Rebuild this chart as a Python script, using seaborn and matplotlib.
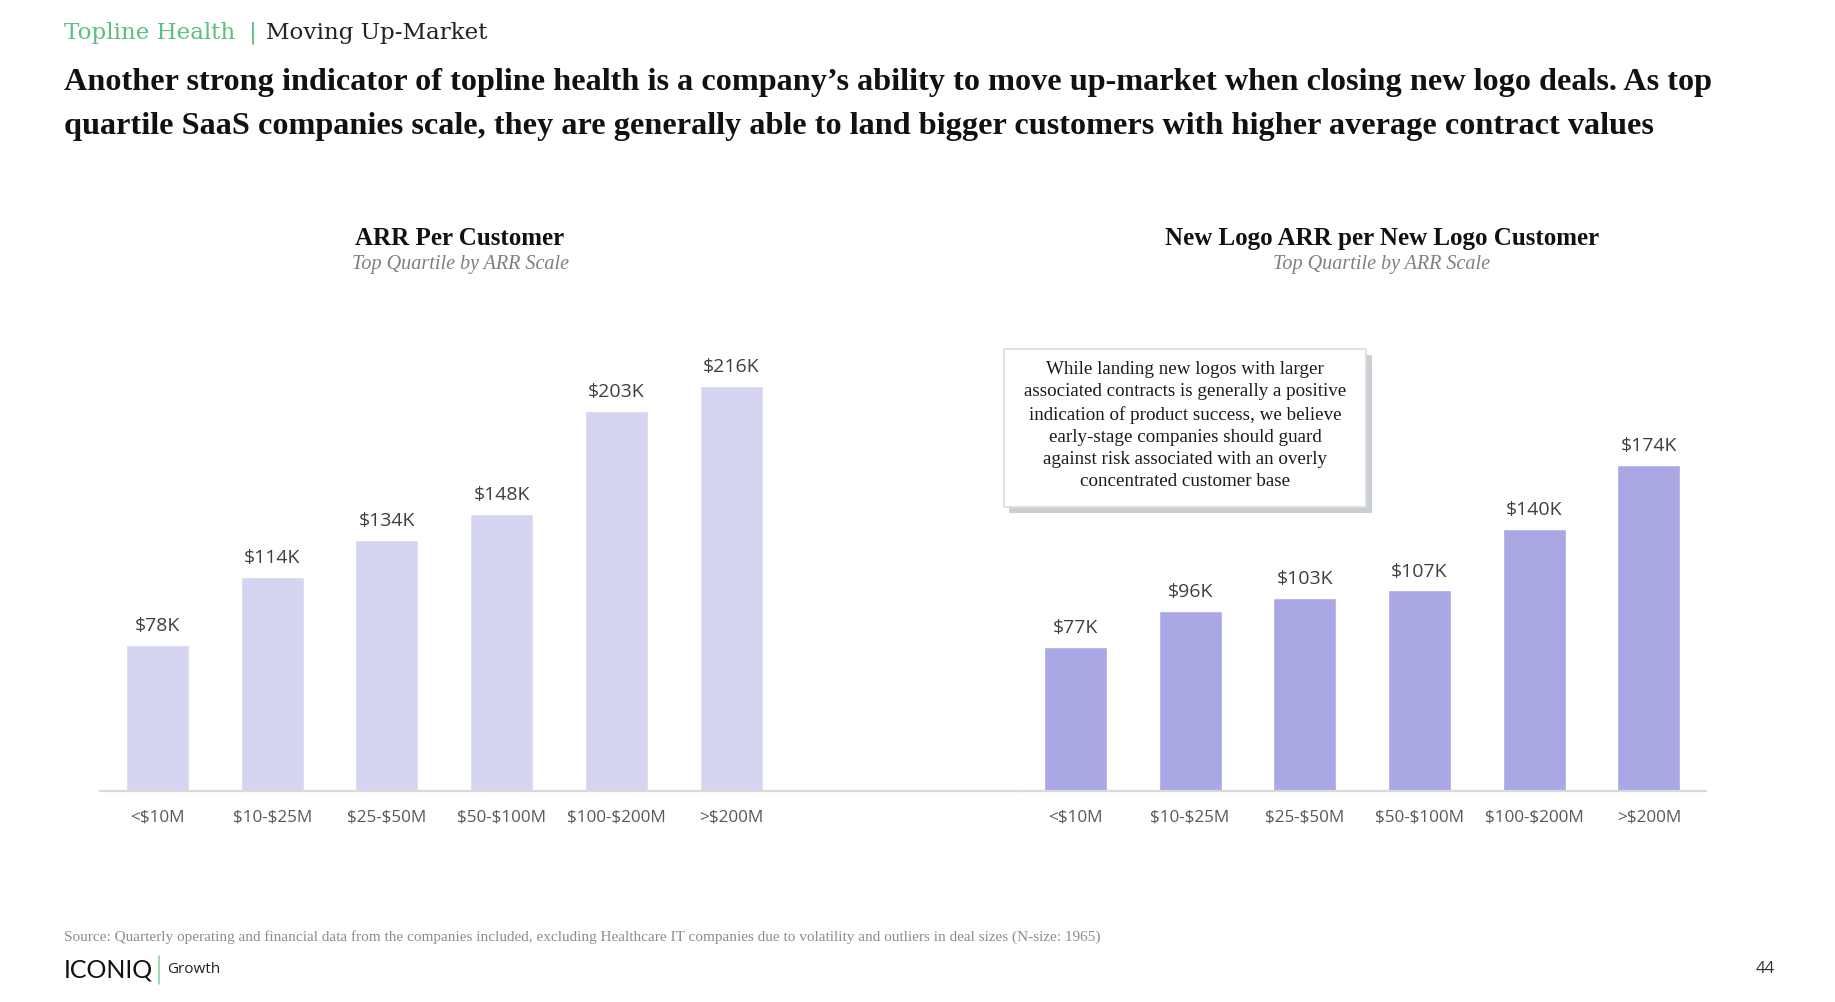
import matplotlib
matplotlib.use('Agg')
import matplotlib.pyplot as plt
import matplotlib.patheffects as pe
from matplotlib.patches import FancyBboxPatch
from matplotlib.lines import Line2D
import seaborn as sns

# data (values in $K)
scale_bands = ['<$10M', '$10-$25M', '$25-$50M', '$50-$100M', '$100-$200M', '>$200M']
arr_per_customer = [78, 114, 134, 148, 203, 216]
new_logo_arr_per_customer = [77, 96, 103, 107, 140, 174]

left_color = '#d5d5f1'
right_color = '#a9a7e4'
serif = 'Liberation Serif'
sans = 'Open Sans'

sns.set_theme(style='white')
plt.rcParams['font.family'] = [sans, 'DejaVu Sans']

fig = plt.figure(figsize=(18.35, 10.02), dpi=100)
fig.patch.set_facecolor('white')

# axes boxes in figure fractions
ax_left = fig.add_axes([0.0545, 0.2106, 0.5003, 0.49])
ax_right = fig.add_axes([0.5548, 0.2106, 0.3750, 0.49])


def draw_panel(ax, values, color, xmax):
    sns.barplot(x=scale_bands, y=values, color=color, saturation=1,
                width=0.55, ax=ax)
    ax.set_ylim(0, 262)
    ax.set_xlim(-0.5, xmax)
    for i, v in enumerate(values):
        ax.annotate(f'${v}K', (i, v), xytext=(0, 10), textcoords='offset points',
                    ha='center', va='baseline', fontsize=14, color='#3f3f3f',
                    family=sans)
    for side in ['top', 'left', 'right']:
        ax.spines[side].set_visible(False)
    ax.spines['bottom'].set_color('#d9d9d9')
    ax.spines['bottom'].set_linewidth(1.6)
    ax.set_yticks([])
    ax.set_xlabel('')
    ax.set_ylabel('')
    # escape the dollar signs so they are not read as mathtext
    ax.set_xticks(range(len(scale_bands)))
    ax.set_xticklabels([b.replace('$', r'\$') for b in scale_bands], family=sans)
    ax.tick_params(axis='x', length=0, pad=13, labelsize=12.3, labelcolor='#595959')


draw_panel(ax_left, arr_per_customer, left_color, 7.5)
draw_panel(ax_right, new_logo_arr_per_customer, right_color, 5.5)

# chart titles
fig.text(0.2507, 0.7615, 'ARR Per Customer', ha='center', va='center',
         fontsize=18, fontweight='bold', family=serif, color='#111111')
fig.text(0.2507, 0.7365, 'Top Quartile by ARR Scale', ha='center', va='center',
         fontsize=14.5, style='italic', family=serif, color='#7f7f7f')
fig.text(0.7531, 0.7615, 'New Logo ARR per New Logo Customer', ha='center', va='center',
         fontsize=18, fontweight='bold', family=serif, color='#111111')
fig.text(0.7531, 0.7365, 'Top Quartile by ARR Scale', ha='center', va='center',
         fontsize=14.5, style='italic', family=serif, color='#7f7f7f')

# callout box with drop shadow
box = FancyBboxPatch((0.5471, 0.494), 0.1973, 0.1577, boxstyle='square,pad=0',
                     transform=fig.transFigure, facecolor='white',
                     edgecolor='#d6dde3', linewidth=1.2)
box.set_path_effects([pe.SimplePatchShadow(offset=(4, -4), shadow_rgbFace='#9aa0a6', alpha=0.5),
                      pe.Normal()])
fig.patches.append(box)
note = ('While landing new logos with larger\n'
        'associated contracts is generally a positive\n'
        'indication of product success, we believe\n'
        'early-stage companies should guard\n'
        'against risk associated with an overly\n'
        'concentrated customer base')
fig.text(0.6458, 0.5753, note, ha='center', va='center', multialignment='center',
         fontsize=13.7, family=serif, color='#1a1a1a', linespacing=1.4)

# slide header
fig.text(0.0349, 0.967, 'Topline Health', ha='left', va='center', fontsize=16.6,
         family='DejaVu Serif', color='#5cbf83')
fig.text(0.1357, 0.967, '|', ha='left', va='center', fontsize=16.6,
         family='DejaVu Serif', color='#5cbf83')
fig.text(0.1450, 0.967, 'Moving Up-Market', ha='left', va='center', fontsize=16.6,
         family='DejaVu Serif', color='#222222')
fig.text(0.0349, 0.918,
         'Another strong indicator of topline health is a company\u2019s ability to move '
         'up-market when closing new logo deals. As top',
         ha='left', va='center', fontsize=23.2, fontweight='bold', family=serif, color='#111111')
fig.text(0.0349, 0.874,
         'quartile SaaS companies scale, they are generally able to land bigger customers '
         'with higher average contract values',
         ha='left', va='center', fontsize=23.2, fontweight='bold', family=serif, color='#111111')

# footer
fig.text(0.0349, 0.0644,
         'Source: Quarterly operating and financial data from the companies included, '
         'excluding Healthcare IT companies due to volatility and outliers in deal sizes (N-size: 1965)',
         ha='left', va='center', fontsize=11.0, family=serif, color='#8c8c8c')
fig.text(0.0349, 0.032, 'ICONIQ', ha='left', va='center', fontsize=18,
         family='Lato', color='#111111')
fig.lines.append(Line2D([0.0868, 0.0868], [0.018, 0.046], transform=fig.transFigure,
                        color='#8fd1a4', linewidth=1.2))
fig.text(0.0912, 0.032, 'Growth', ha='left', va='center', fontsize=11,
         family=sans, color='#222222')
fig.text(0.9565, 0.033, '44', ha='left', va='center', fontsize=12,
         family=sans, color='#333333')

fig.savefig('out.png', dpi=100, facecolor='white')
